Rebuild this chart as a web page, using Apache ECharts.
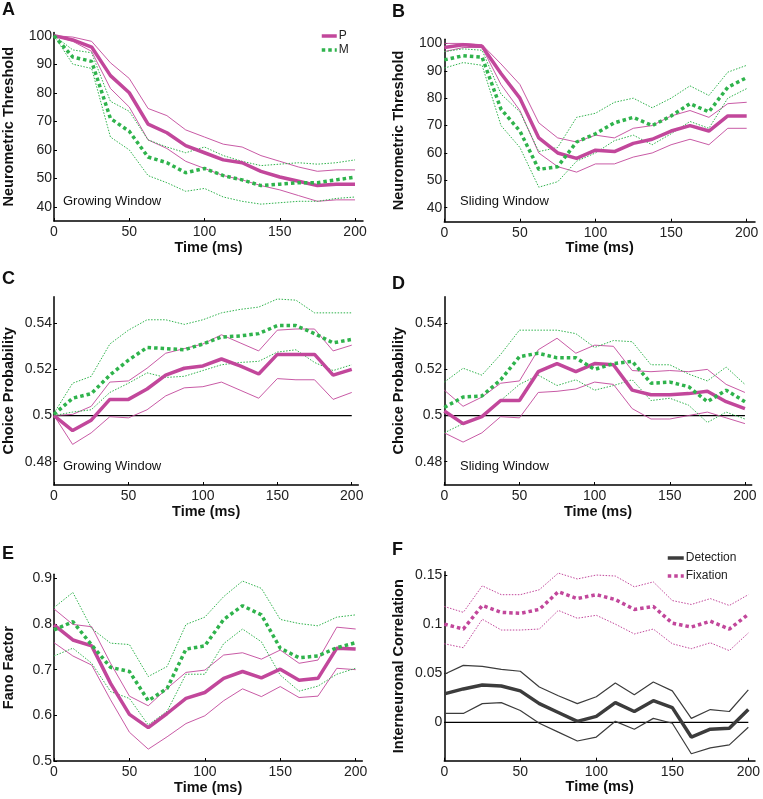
<!DOCTYPE html>
<html>
<head>
<meta charset="utf-8">
<script src="https://cdn.jsdelivr.net/npm/echarts@6/dist/echarts.min.js"></script>
<style>
  html, body { margin: 0; padding: 0; background: #fff; }
  #chart { width: 763px; height: 799px; }
</style>
</head>
<body>
<div id="chart"></div>
<script>
// time bins (ms)
var times = [0, 12.5, 25, 37.5, 50, 62.5, 75, 87.5, 100, 112.5, 125, 137.5, 150, 162.5, 175, 187.5, 200];

// A: neurometric threshold, growing window
var aPMean = [100, 98.5, 96, 86, 80, 69, 66, 61.5, 59, 56.5, 55.5, 52.5, 50.5, 49, 47.5, 48, 48];
var aPUp   = [100, 99.5, 98, 90.5, 85, 74.5, 72, 67, 64.5, 62, 61, 58, 56, 54, 52.5, 53, 53];
var aPLo   = [100, 98, 94.5, 81.5, 75, 63.5, 60.5, 56, 53.5, 51, 49.5, 47.5, 46, 44, 42, 42.5, 42.5];
var aMMean = [100, 92.5, 91, 71, 66.5, 57.5, 55.5, 52, 53.5, 51, 49.5, 47.5, 48, 48.5, 48.5, 49.5, 50.5];
var aMUp   = [100, 95, 94, 77, 73.5, 63.5, 61, 59, 61, 58, 56, 54.5, 55, 55.5, 55, 55.5, 56.5];
var aMLo   = [100, 90, 88.5, 64.5, 60, 51, 48.5, 45.5, 46.5, 43.5, 42, 41, 41.5, 42, 42, 43, 43.5];

// B: neurometric threshold, sliding window
var bPMean = [98.5, 99.5, 99, 89, 80, 65.5, 60, 58, 61, 60.5, 63.5, 65, 68, 70, 68, 73.5, 73.5];
var bPUp   = [100, 100, 99.5, 92.5, 85, 71, 65.5, 64, 66.5, 65.5, 69, 70, 73.5, 75.5, 73, 78, 78.5];
var bPLo   = [97, 98.5, 98.5, 85, 75.5, 60, 55, 53, 56, 56, 58.5, 60, 63, 65, 63, 69, 69];
var bMMean = [94, 95.5, 95, 76, 68, 54, 55, 64, 67, 71, 73, 70, 73.5, 78, 75, 84, 87.5];
var bMUp   = [97, 98, 97.5, 81.5, 75, 60.5, 62, 73, 74.5, 78.5, 80, 76.5, 80, 84.5, 81, 89.5, 92];
var bMLo   = [91, 93, 92, 70, 62, 47.5, 49.5, 57, 60, 64.5, 66.5, 63, 67, 71.5, 69, 80, 83.5];

// C: choice probability, growing window
var cPMean = [0.5, 0.4935, 0.498, 0.507, 0.507, 0.5115, 0.5175, 0.5205, 0.5215, 0.5245, 0.5215, 0.518, 0.5265, 0.5265, 0.5265, 0.5175, 0.52];
var cPUp   = [0.5, 0.5005, 0.504, 0.5145, 0.515, 0.5205, 0.527, 0.529, 0.531, 0.535, 0.5315, 0.528, 0.537, 0.5375, 0.5375, 0.528, 0.5305];
var cPLo   = [0.5, 0.4875, 0.4925, 0.4995, 0.499, 0.5025, 0.5085, 0.512, 0.5125, 0.5145, 0.511, 0.5075, 0.516, 0.5155, 0.5155, 0.507, 0.51];
var cMMean = [0.5005, 0.5075, 0.5095, 0.5175, 0.524, 0.5295, 0.529, 0.5285, 0.531, 0.534, 0.5345, 0.5355, 0.539, 0.539, 0.5355, 0.5315, 0.533];
var cMUp   = [0.501, 0.514, 0.517, 0.531, 0.537, 0.5415, 0.5415, 0.5395, 0.5415, 0.5445, 0.546, 0.547, 0.5505, 0.55, 0.5445, 0.5445, 0.5445];
var cMLo   = [0.5, 0.5015, 0.5025, 0.51, 0.514, 0.5185, 0.5165, 0.517, 0.5195, 0.522, 0.523, 0.5235, 0.5275, 0.5285, 0.523, 0.5195, 0.522];

// D: choice probability, sliding window
var dPMean = [0.502, 0.4965, 0.4995, 0.5065, 0.5065, 0.519, 0.5225, 0.519, 0.5225, 0.522, 0.511, 0.509, 0.509, 0.5095, 0.5105, 0.506, 0.503];
var dPUp   = [0.511, 0.504, 0.508, 0.514, 0.515, 0.5285, 0.5335, 0.527, 0.5305, 0.53, 0.5195, 0.519, 0.5195, 0.519, 0.52, 0.5135, 0.51];
var dPLo   = [0.4925, 0.4885, 0.4925, 0.4995, 0.499, 0.51, 0.5105, 0.5115, 0.5145, 0.5135, 0.503, 0.4985, 0.4985, 0.5, 0.5015, 0.499, 0.4965];
var dMMean = [0.5035, 0.508, 0.5085, 0.5155, 0.5255, 0.527, 0.525, 0.525, 0.52, 0.5225, 0.5235, 0.514, 0.5145, 0.5125, 0.506, 0.511, 0.506];
var dMUp   = [0.5145, 0.5205, 0.5175, 0.5265, 0.537, 0.537, 0.537, 0.5355, 0.5295, 0.5325, 0.532, 0.522, 0.522, 0.518, 0.515, 0.521, 0.5135];
var dMLo   = [0.4925, 0.4965, 0.5, 0.5065, 0.5135, 0.5175, 0.513, 0.5155, 0.511, 0.513, 0.5155, 0.5065, 0.5075, 0.5045, 0.497, 0.5015, 0.4985];

// E: Fano factor
var ePMean = [0.798, 0.765, 0.752, 0.67, 0.602, 0.573, 0.604, 0.637, 0.65, 0.681, 0.696, 0.682, 0.701, 0.677, 0.681, 0.747, 0.745];
var ePUp   = [0.833, 0.799, 0.794, 0.714, 0.642, 0.621, 0.659, 0.694, 0.699, 0.732, 0.737, 0.723, 0.743, 0.714, 0.721, 0.793, 0.789];
var ePLo   = [0.759, 0.73, 0.71, 0.634, 0.563, 0.526, 0.553, 0.582, 0.599, 0.632, 0.658, 0.641, 0.663, 0.639, 0.642, 0.703, 0.7];
var eMMean = [0.787, 0.805, 0.754, 0.705, 0.696, 0.632, 0.659, 0.745, 0.752, 0.81, 0.84, 0.82, 0.747, 0.726, 0.73, 0.748, 0.759];
var eMUp   = [0.836, 0.869, 0.79, 0.758, 0.755, 0.685, 0.707, 0.799, 0.815, 0.86, 0.894, 0.878, 0.81, 0.801, 0.796, 0.815, 0.82];
var eMLo   = [0.73, 0.747, 0.714, 0.652, 0.637, 0.579, 0.609, 0.69, 0.69, 0.757, 0.789, 0.761, 0.688, 0.653, 0.664, 0.69, 0.703];

// F: interneuronal correlation
var fDMean = [0.029, 0.034, 0.038, 0.037, 0.032, 0.019, 0.01, 0.001, 0.006, 0.02, 0.011, 0.022, 0.015, -0.015, -0.007, -0.006, 0.013];
var fDUp   = [0.049, 0.058, 0.057, 0.054, 0.052, 0.036, 0.027, 0.019, 0.026, 0.04, 0.028, 0.041, 0.032, 0.004, 0.013, 0.011, 0.033];
var fDLo   = [0.009, 0.009, 0.019, 0.02, 0.012, -0.001, -0.01, -0.019, -0.015, 0.001, -0.007, 0.004, -0.001, -0.032, -0.026, -0.023, -0.005];
var fFMean = [0.1, 0.095, 0.119, 0.112, 0.111, 0.115, 0.133, 0.126, 0.13, 0.125, 0.115, 0.118, 0.101, 0.097, 0.103, 0.095, 0.11];
var fFUp   = [0.118, 0.112, 0.139, 0.13, 0.13, 0.135, 0.152, 0.146, 0.15, 0.149, 0.138, 0.143, 0.124, 0.12, 0.126, 0.119, 0.13];
var fFLo   = [0.08, 0.076, 0.105, 0.094, 0.094, 0.095, 0.114, 0.106, 0.109, 0.1, 0.09, 0.095, 0.08, 0.075, 0.081, 0.073, 0.091];

// reference levels and tick labels
var cpChance = 0.5;
var corrZero = 0;
var xTicks = [0, 50, 100, 150, 200];
var threshTicks = [40, 50, 60, 70, 80, 90, 100];
var cpTicks = [0.48, 0.5, 0.52, 0.54];
var fanoTicks = [0.5, 0.6, 0.7, 0.8, 0.9];
var corrTicks = [0, 0.05, 0.1, 0.15];

var FONT = "'Liberation Sans', Arial, Helvetica, sans-serif";
var MAG = '#c2479b';
var GRN = '#2fb34c';
var DARK = '#3c3c3c';

var chart = echarts.init(document.getElementById('chart'));

// panel layout: grid box + axis extents
var panels = [
  {left: 51,    top: 32.5,  width: 312,   height: 188.5, xMax: 205.3, yMin: 35.1,    yMax: 101.1,  ticks: threshTicks, name: 'Neurometric Threshold'},
  {left: 444.3, top: 39.3,  width: 310.7, height: 182.4, xMax: 205.5, yMin: 34.9,    yMax: 101.5,  ticks: threshTicks, name: 'Neurometric Threshold'},
  {left: 51.7,  top: 296.7, width: 306.6, height: 188.3, xMax: 204.4, yMin: 0.4699,  yMax: 0.5515, ticks: cpTicks,     name: 'Choice Probability'},
  {left: 444.3, top: 296.7, width: 307.4, height: 188.3, xMax: 204.5, yMin: 0.4699,  yMax: 0.5515, ticks: cpTicks,     name: 'Choice Probability'},
  {left: 52.7,  top: 574.3, width: 309.6, height: 186.7, xMax: 204.4, yMin: 0.5,     yMax: 0.9088, ticks: fanoTicks,   name: 'Fano Factor'},
  {left: 444.3, top: 571.7, width: 312.4, height: 189,   xMax: 204.4, yMin: -0.0391, yMax: 0.1534, ticks: corrTicks,   name: 'Interneuronal Correlation'}
];

function pts(ys) {
  return times.map(function (t, i) { return [t, ys[i]]; });
}

function line(name, idx, ys, color, width, type, z) {
  return {
    name: name,
    type: 'line',
    xAxisIndex: idx,
    yAxisIndex: idx,
    data: pts(ys),
    symbol: 'none',
    silent: true,
    animation: false,
    z: z || 2,
    lineStyle: {color: color, width: width, type: type || 'solid', cap: 'butt'}
  };
}

function flat(idx, level) {
  return {
    type: 'line',
    xAxisIndex: idx,
    yAxisIndex: idx,
    data: [[times[0], level], [times[times.length - 1], level]],
    symbol: 'none',
    silent: true,
    animation: false,
    z: 1,
    lineStyle: {color: '#000', width: 1.3}
  };
}

var thickDot = [3.5, 3];
var thinDot = [1.5, 1.5];

var series = [];
// panels A-E: P (magenta) vs M (green)
var pm = [
  [aPMean, aPUp, aPLo, aMMean, aMUp, aMLo],
  [bPMean, bPUp, bPLo, bMMean, bMUp, bMLo],
  [cPMean, cPUp, cPLo, cMMean, cMUp, cMLo],
  [dPMean, dPUp, dPLo, dMMean, dMUp, dMLo],
  [ePMean, ePUp, ePLo, eMMean, eMUp, eMLo]
];
series.push(flat(2, cpChance));
series.push(flat(3, cpChance));
series.push(flat(5, corrZero));
pm.forEach(function (d, i) {
  series.push(line('P-up-' + i, i, d[1], MAG, 0.9, 'solid', 2));
  series.push(line('P-lo-' + i, i, d[2], MAG, 0.9, 'solid', 2));
  series.push(line('M-up-' + i, i, d[4], GRN, 1, thinDot, 2));
  series.push(line('M-lo-' + i, i, d[5], GRN, 1, thinDot, 2));
  series.push(line(i === 0 ? 'P' : 'P-' + i, i, d[0], MAG, 3.5, 'solid', 3));
  series.push(line(i === 0 ? 'M' : 'M-' + i, i, d[3], GRN, 3.5, thickDot, 4));
});
// panel F: detection vs fixation
series.push(line('D-up', 5, fDUp, DARK, 1.2, 'solid', 2));
series.push(line('D-lo', 5, fDLo, DARK, 1.2, 'solid', 2));
series.push(line('F-up', 5, fFUp, MAG, 1, thinDot, 2));
series.push(line('F-lo', 5, fFLo, MAG, 1, thinDot, 2));
series.push(line('Detection', 5, fDMean, DARK, 3.5, 'solid', 3));
series.push(line('Fixation', 5, fFMean, MAG, 3.5, thickDot, 3));

function pickLabel(list) {
  return function (v) {
    for (var i = 0; i < list.length; i++) {
      if (Math.abs(v - list[i]) < 1e-9) return String(list[i]);
    }
    return '';
  };
}

var axisLine = {show: true, onZero: false, lineStyle: {color: '#000', width: 1.5}};

var option = {
  backgroundColor: '#fff',
  animation: false,
  textStyle: {fontFamily: FONT},
  title: [
    {text: 'A', left: 2, top: 1},
    {text: 'B', left: 392, top: 3},
    {text: 'C', left: 2, top: 270},
    {text: 'D', left: 392, top: 275},
    {text: 'E', left: 2, top: 545},
    {text: 'F', left: 392, top: 541},
    {text: 'Growing Window', left: 63, top: 195, small: true},
    {text: 'Sliding Window', left: 460, top: 195, small: true},
    {text: 'Growing Window', left: 63, top: 460, small: true},
    {text: 'Sliding Window', left: 460, top: 460, small: true}
  ].map(function (t) {
    return {
      text: t.text, left: t.left, top: t.top, padding: 0,
      textStyle: t.small
        ? {fontFamily: FONT, fontSize: 13, fontWeight: 'normal', color: '#111'}
        : {fontFamily: FONT, fontSize: 18, fontWeight: 'bold', color: '#111'}
    };
  }),
  legend: [
    {
      data: ['P', 'M'], left: 320, top: 30, orient: 'vertical',
      itemWidth: 15, itemHeight: 12, itemGap: 2, padding: 0, itemStyle: {opacity: 0},
      lineStyle: {width: 3.5},
      textStyle: {fontFamily: FONT, fontSize: 12, color: '#222', padding: [0, 0, 0, -3]},
      selectedMode: false
    },
    {
      data: ['Detection', 'Fixation'], left: 666, top: 552, orient: 'vertical',
      itemWidth: 16, itemHeight: 12, itemGap: 6, padding: 0, itemStyle: {opacity: 0},
      lineStyle: {width: 3.5},
      textStyle: {fontFamily: FONT, fontSize: 12, color: '#222', padding: [0, 0, 0, -3]},
      selectedMode: false
    }
  ],
  grid: panels.map(function (p) {
    return {left: p.left, top: p.top, width: p.width, height: p.height, containLabel: false};
  }),
  xAxis: panels.map(function (p, i) {
    return {
      type: 'value', gridIndex: i, min: 0, max: p.xMax,
      name: 'Time (ms)', nameLocation: 'middle', nameGap: 19,
      nameTextStyle: {fontFamily: FONT, fontSize: 14.5, fontWeight: 'bold', color: '#111', verticalAlign: 'top'},
      axisLine: axisLine,
      axisTick: {show: true, inside: true, length: 3, customValues: xTicks, lineStyle: {color: '#000', width: 1}},
      axisLabel: {customValues: xTicks, formatter: pickLabel(xTicks), margin: 4, fontFamily: FONT, fontSize: 14, color: '#222'},
      splitLine: {show: false}
    };
  }),
  yAxis: panels.map(function (p, i) {
    return {
      type: 'value', gridIndex: i, min: p.yMin, max: p.yMax,
      name: p.name, nameLocation: 'middle', nameGap: 38,
      nameTextStyle: {fontFamily: FONT, fontSize: 14.5, fontWeight: 'bold', color: '#111'},
      axisLine: axisLine,
      axisTick: {show: true, inside: true, length: 3, customValues: p.ticks, lineStyle: {color: '#000', width: 1}},
      axisLabel: {customValues: p.ticks, formatter: pickLabel(p.ticks), margin: 2, fontFamily: FONT, fontSize: 14, color: '#222'},
      splitLine: {show: false}
    };
  }),
  series: series
};

chart.setOption(option);
</script>
</body>
</html>
